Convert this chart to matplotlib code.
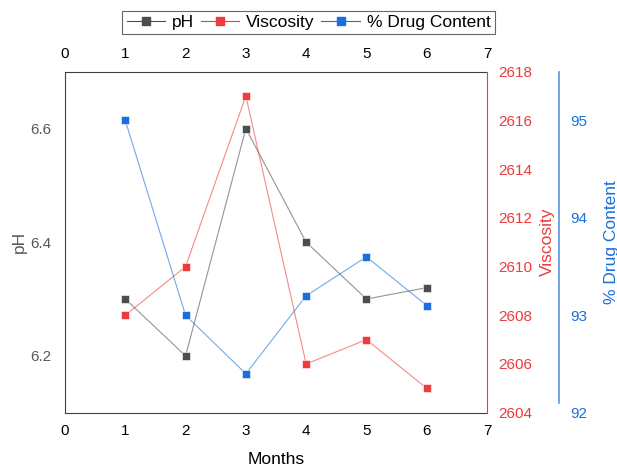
import matplotlib.pyplot as plt

plt.rcParams['font.family'] = ['Liberation Sans', 'DejaVu Sans']

months = [1, 2, 3, 4, 5, 6]
ph = [6.30, 6.20, 6.60, 6.40, 6.30, 6.32]
viscosity = [2608, 2610, 2617, 2606, 2607, 2605]
drug_content = [95.0, 93.0, 92.4, 93.2, 93.6, 93.1]

grey = '#4d4d4d'
red = '#ee3b3b'
blue = '#1a6fdc'

fig = plt.figure(figsize=(6.17, 4.66), dpi=100)
ax = fig.add_axes([65 / 617, 53.3 / 466, 422 / 617, 341 / 466])
ax2 = ax.twinx()
ax3 = ax.twinx()

def series(a, y, color, label):
    a.plot(months, y, color=color, lw=0.8, alpha=0.6)
    a.plot(months, y, ls='none', marker='s', ms=5.5, color=color,
           markeredgecolor='white', markeredgewidth=0.4)
    # legend handle: line with solid marker
    return a.plot([], [], color=color, lw=0.8, marker='s', ms=6,
                  markeredgecolor=color, label=label)[0]

h1 = series(ax, ph, grey, 'pH')
h2 = series(ax2, viscosity, red, 'Viscosity')
h3 = series(ax3, drug_content, blue, '% Drug Content')

ax.set_xlim(0, 7)
ax.set_ylim(6.1, 6.7)
ax.set_yticks([6.2, 6.4, 6.6])
ax.set_xticks(range(8))
ax.set_xlabel('Months', fontsize=12.5, labelpad=10)
ax.set_ylabel('pH', fontsize=12.5, color='#595959', labelpad=2)
ax.tick_params(axis='y', length=0, labelsize=11, labelcolor='#595959', pad=10)
ax.tick_params(axis='x', length=0, labelsize=11, pad=8,
               top=True, labeltop=True)
for s in ['left', 'top', 'bottom']:
    ax.spines[s].set_color('#404040')
ax.spines['right'].set_visible(False)

ax2.set_ylim(2604, 2618)
ax2.set_yticks(range(2604, 2619, 2))
ax2.set_ylabel('Viscosity', fontsize=12.5, color=red, labelpad=5.5)
ax2.tick_params(axis='y', length=0, labelsize=11, labelcolor=red, pad=8)
ax2.spines['right'].set_color(red)
for s in ['left', 'top', 'bottom']:
    ax2.spines[s].set_visible(False)

ax3.set_ylim(92, 95.5)
ax3.set_yticks([92, 93, 94, 95])
ax3.set_ylabel('% Drug Content', fontsize=12.5, color=blue, labelpad=12)
ax3.tick_params(axis='y', length=0, labelsize=11, labelcolor=blue, pad=8)
ax3.spines['right'].set_position(('axes', 1.17))
ax3.spines['right'].set_color('#4a8ae3')
ax3.spines['right'].set_linewidth(1.1)
ax3.spines['right'].set_bounds(92.1, 95.5)
for s in ['left', 'top', 'bottom']:
    ax3.spines[s].set_visible(False)

leg = fig.legend(handles=[h1, h2, h3], loc='center', bbox_to_anchor=(0.5, 1 - 22.5 / 466),
                 ncol=3, fontsize=12.5, frameon=True, fancybox=False,
                 handlelength=2.2, handletextpad=0.4, columnspacing=0.4,
                 borderpad=0.25, borderaxespad=0)
leg.get_frame().set_edgecolor('#404040')
leg.get_frame().set_linewidth(0.8)

fig.savefig('out.png', dpi=100)
